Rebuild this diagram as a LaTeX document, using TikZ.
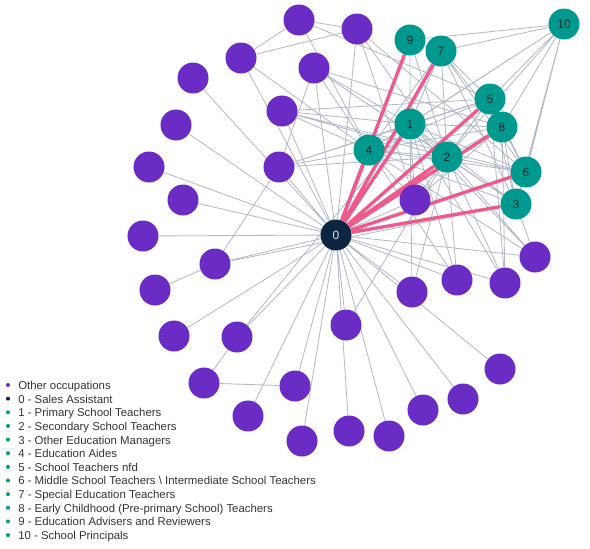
\documentclass[tikz,border=0pt]{standalone}
\usepackage{fontspec}
\setmainfont{Liberation Sans}
\usepackage{xcolor}
\usepackage{tikz}
\usetikzlibrary{shapes.geometric, positioning, backgrounds}
\definecolor{occPurple}{HTML}{6A2CC4}
\definecolor{eduTeal}{HTML}{00998F}
\definecolor{salesNavy}{HTML}{0C2543}
\definecolor{linkGrey}{HTML}{B3BAC7}
\definecolor{linkPink}{HTML}{EE5A8C}
\newcommand{\legendfont}{\fontsize{8.1}{9.8}\selectfont}
\newcommand{\circlefont}{\fontsize{8.5}{10}\selectfont}
\tikzstyle{occupation} = [circle, minimum size=0.775cm, inner sep=0pt, fill=occPurple]
\tikzstyle{teacher} = [circle, minimum size=0.775cm, inner sep=0pt, fill=eduTeal, font=\circlefont, text=black!85]
\tikzstyle{hub} = [circle, minimum size=0.775cm, inner sep=0pt, fill=salesNavy, font=\circlefont, text=white!80!gray]
\tikzstyle{link} = [draw=linkGrey, line width=0.6pt]
\tikzstyle{strong} = [draw=linkPink, line width=2.4pt]
\tikzstyle{legdot} = [circle, minimum size=0.1cm, inner sep=0pt, outer sep=0pt]
\tikzstyle{legtext} = [anchor=west, inner sep=0pt, text height=1.5ex, text depth=0.3ex, font=\legendfont, text=black!80]

\begin{document}
\begin{tikzpicture}[x=0.025cm, y=-0.025cm]
	\useasboundingbox (0,0) rectangle (590,548);
	
	% Nodes
	\node (sales) [hub] at (336,235) {0};
	\node (primary) [teacher] at (410,124) {1};
	\node (secondary) [teacher] at (447,157) {2};
	\node (otherMgr) [teacher] at (516,204) {3};
	\node (aides) [teacher] at (369,150) {4};
	\node (nfd) [teacher] at (490,99) {5};
	\node (middle) [teacher] at (526,172) {6};
	\node (special) [teacher] at (441,51) {7};
	\node (early) [teacher] at (502,127) {8};
	\node (advisers) [teacher] at (410,40) {9};
	\node (principals) [teacher] at (564,24) {10};
	
	\node (occ1) [occupation] at (299,20) {};
	\node (occ2) [occupation] at (357,29) {};
	\node (occ3) [occupation] at (241,58) {};
	\node (occ4) [occupation] at (314,68) {};
	\node (occ5) [occupation] at (193,78) {};
	\node (occ6) [occupation] at (282,111) {};
	\node (occ7) [occupation] at (176,125) {};
	\node (occ8) [occupation] at (279,167) {};
	\node (occ9) [occupation] at (149,167) {};
	\node (occ10) [occupation] at (183,200) {};
	\node (occ11) [occupation] at (143,236) {};
	\node (occ12) [occupation] at (215,264) {};
	\node (occ13) [occupation] at (155,290) {};
	\node (occ14) [occupation] at (415,200) {};
	\node (occ15) [occupation] at (535,257) {};
	\node (occ16) [occupation] at (457,280) {};
	\node (occ17) [occupation] at (505,283) {};
	\node (occ18) [occupation] at (412,292) {};
	\node (occ19) [occupation] at (346,325) {};
	\node (occ20) [occupation] at (174,336) {};
	\node (occ21) [occupation] at (237,337) {};
	\node (occ22) [occupation] at (500,369) {};
	\node (occ23) [occupation] at (204,383) {};
	\node (occ24) [occupation] at (295,386) {};
	\node (occ25) [occupation] at (463,399) {};
	\node (occ26) [occupation] at (248,416) {};
	\node (occ27) [occupation] at (423,410) {};
	\node (occ28) [occupation] at (349,431) {};
	\node (occ29) [occupation] at (389,436) {};
	\node (occ30) [occupation] at (302,441) {};
	
	% Legend
	\node (dotOther) [legdot, fill=occPurple] at (8,385) {};
	\node (dotSales) [legdot, fill=salesNavy, below=0.241cm of dotOther] {};
	\node (dotPrimary) [legdot, fill=eduTeal, below=0.241cm of dotSales] {};
	\node (dotSecondary) [legdot, fill=eduTeal, below=0.241cm of dotPrimary] {};
	\node (dotOtherMgr) [legdot, fill=eduTeal, below=0.241cm of dotSecondary] {};
	\node (dotAides) [legdot, fill=eduTeal, below=0.241cm of dotOtherMgr] {};
	\node (dotNfd) [legdot, fill=eduTeal, below=0.241cm of dotAides] {};
	\node (dotMiddle) [legdot, fill=eduTeal, below=0.241cm of dotNfd] {};
	\node (dotSpecial) [legdot, fill=eduTeal, below=0.241cm of dotMiddle] {};
	\node (dotEarly) [legdot, fill=eduTeal, below=0.241cm of dotSpecial] {};
	\node (dotAdvisers) [legdot, fill=eduTeal, below=0.241cm of dotEarly] {};
	\node (dotPrincipals) [legdot, fill=eduTeal, below=0.241cm of dotAdvisers] {};
	
	\node (txtOther) [legtext, right=0.2cm of dotOther] {Other occupations};
	\node (txtSales) [legtext, right=0.2cm of dotSales] {0 - Sales Assistant};
	\node (txtPrimary) [legtext, right=0.2cm of dotPrimary] {1 - Primary School Teachers};
	\node (txtSecondary) [legtext, right=0.2cm of dotSecondary] {2 - Secondary School Teachers};
	\node (txtOtherMgr) [legtext, right=0.2cm of dotOtherMgr] {3 - Other Education Managers};
	\node (txtAides) [legtext, right=0.2cm of dotAides] {4 - Education Aides};
	\node (txtNfd) [legtext, right=0.2cm of dotNfd] {5 - School Teachers nfd};
	\node (txtMiddle) [legtext, right=0.2cm of dotMiddle] {6 - Middle School Teachers \textbackslash{} Intermediate School Teachers};
	\node (txtSpecial) [legtext, right=0.2cm of dotSpecial] {7 - Special Education Teachers};
	\node (txtEarly) [legtext, right=0.2cm of dotEarly] {8 - Early Childhood (Pre-primary School) Teachers};
	\node (txtAdvisers) [legtext, right=0.2cm of dotAdvisers] {9 - Education Advisers and Reviewers};
	\node (txtPrincipals) [legtext, right=0.2cm of dotPrincipals] {10 - School Principals};
	
	% Links
	\begin{scope}[on background layer]
		\draw [link] (sales) -- (occ2) (sales) -- (occ3) (sales) -- (occ4) (sales) -- (occ5)
			(sales) -- (occ6) (sales) -- (occ7) (sales) -- (occ8) (sales) -- (occ9)
			(sales) -- (occ10) (sales) -- (occ11) (sales) -- (occ12) (sales) -- (occ14)
			(sales) -- (occ15) (sales) -- (occ16) (sales) -- (occ17) (sales) -- (occ18)
			(sales) -- (occ19) (sales) -- (occ20) (sales) -- (occ21) (sales) -- (occ22)
			(sales) -- (occ24) (sales) -- (occ25) (sales) -- (occ26) (sales) -- (occ27)
			(sales) -- (occ28) (sales) -- (occ29) (sales) -- (occ30);
		\draw [link] (occ1) -- (occ2) (occ1) -- (occ3) (occ3) -- (occ2) (occ12) -- (occ13)
			(occ21) -- (occ23) (occ23) -- (occ24) (occ12) -- (occ8) (occ8) -- (occ4);
		\draw [link] (occ1) -- (aides) (occ1) -- (nfd) (occ2) -- (occ14) (occ2) -- (secondary)
			(occ2) -- (middle) (occ3) -- (aides) (occ4) -- (aides) (occ4) -- (primary)
			(occ4) -- (secondary) (occ4) -- (early) (occ4) -- (otherMgr) (occ6) -- (primary)
			(occ6) -- (aides) (occ6) -- (secondary) (occ6) -- (nfd) (occ6) -- (middle)
			(occ8) -- (aides) (occ8) -- (primary) (occ8) -- (secondary) (occ8) -- (nfd)
			(occ14) -- (secondary) (occ14) -- (primary) (occ14) -- (aides) (occ14) -- (nfd)
			(occ14) -- (early) (occ15) -- (otherMgr) (occ15) -- (primary) (occ15) -- (aides)
			(occ15) -- (secondary) (occ16) -- (secondary) (occ16) -- (primary) (occ16) -- (aides)
			(occ17) -- (early) (occ17) -- (secondary) (occ17) -- (nfd) (occ17) -- (primary)
			(occ18) -- (primary) (occ18) -- (secondary) (occ19) -- (secondary) (occ21) -- (primary)
			(occ12) -- (otherMgr);
		\draw [link] (principals) -- (advisers) (principals) -- (special) (principals) -- (nfd)
			(principals) -- (early) (principals) -- (primary) (principals) -- (aides)
			(principals) -- (secondary) (principals) -- (middle) (principals) -- (otherMgr)
			(special) -- (nfd) (special) -- (early) (special) -- (secondary) (special) -- (primary)
			(special) -- (middle) (special) -- (otherMgr) (special) -- (aides)
			(advisers) -- (primary) (advisers) -- (secondary) (advisers) -- (aides)
			(primary) -- (aides) (primary) -- (secondary) (primary) -- (nfd) (primary) -- (early)
			(primary) -- (middle) (primary) -- (otherMgr)
			(aides) -- (secondary) (aides) -- (early) (aides) -- (nfd) (aides) -- (middle)
			(aides) -- (otherMgr)
			(secondary) -- (nfd) (secondary) -- (early) (secondary) -- (middle) (secondary) -- (otherMgr)
			(nfd) -- (early) (nfd) -- (middle) (nfd) -- (otherMgr)
			(early) -- (middle) (early) -- (otherMgr) (middle) -- (otherMgr);
		\draw [strong] (sales) -- (advisers) (sales) -- (special) (sales) -- (primary)
			(sales) -- (aides) (sales) -- (nfd) (sales) -- (early) (sales) -- (secondary)
			(sales) -- (middle) (sales) -- (otherMgr);
	\end{scope}
	
\end{tikzpicture}
\end{document}
